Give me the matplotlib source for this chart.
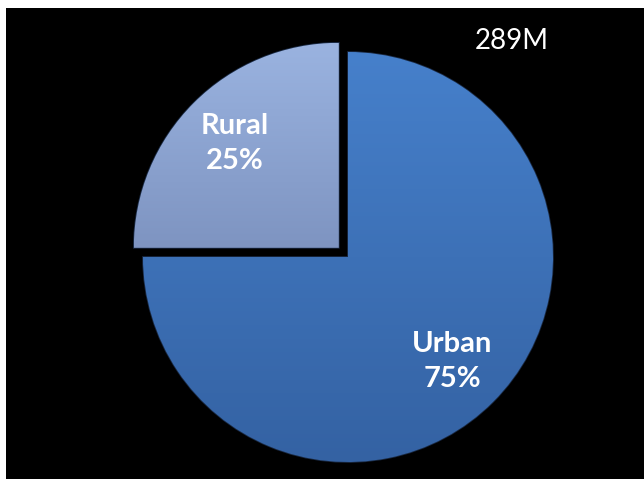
import numpy as np
import matplotlib
matplotlib.use("Agg")
import matplotlib.pyplot as plt
from matplotlib.patches import Rectangle

# data
labels = ["Rural", "Urban"]
shares = [25, 75]
total_label = "289M"

# colours: top / bottom of gradient per slice
tops = ["#9ab3e0", "#4680cb"]
bottoms = ["#7e94c1", "#3462a3"]

W, H = 644, 479
fig = plt.figure(figsize=(W / 100, H / 100), dpi=100)
fig.patch.set_facecolor("white")
ax = fig.add_axes([0, 0, 1, 1])

# black slide background (thin white margin left and top)
ax.add_patch(Rectangle((6, 0), W - 6, H - 8, facecolor="black", edgecolor="none", zorder=0))

names = iter(labels)
# explode is in data units here (pixels), pie does not scale it by radius
wedges, texts, autotexts = ax.pie(
    shares, startangle=90, counterclock=True,
    center=(348, 222), radius=205, explode=[13, 0],
    colors=tops, autopct=lambda p: f"{next(names)}\n{p:.0f}%",
    pctdistance=0.72, frame=True,
    wedgeprops=dict(edgecolor="#1a2a44", linewidth=1.2),
    textprops=dict(color="white", fontsize=21, fontweight="bold",
                   family=["Lato", "DejaVu Sans"], linespacing=1.45),
)
ax.set_xlim(0, W)
ax.set_ylim(0, H)
ax.set_aspect("equal")
ax.axis("off")

# vertical gradient clipped to each slice
inv = ax.transData.inverted()
for w, c1, c2 in zip(wedges, tops, bottoms):
    bb = w.get_path().get_extents(w.get_transform())
    (x0, y0), (x1, y1) = inv.transform([[bb.x0, bb.y0], [bb.x1, bb.y1]])
    a = np.array(matplotlib.colors.to_rgb(c1))
    b = np.array(matplotlib.colors.to_rgb(c2))
    t = np.linspace(0, 1, 256)[:, None]
    grad = (a * (1 - t) + b * t)[:, None, :]
    im = ax.imshow(grad, extent=(x0, x1, y0, y1), origin="upper", aspect="auto", zorder=1.5)
    im.set_clip_path(w)
ax.set_xlim(0, W)
ax.set_ylim(0, H)

ax.text(512, H - 41, total_label, color="white", fontsize=20,
        family=["Lato", "DejaVu Sans"], ha="center", va="center", zorder=4)

fig.savefig("out.png", dpi=100, facecolor=fig.get_facecolor())
